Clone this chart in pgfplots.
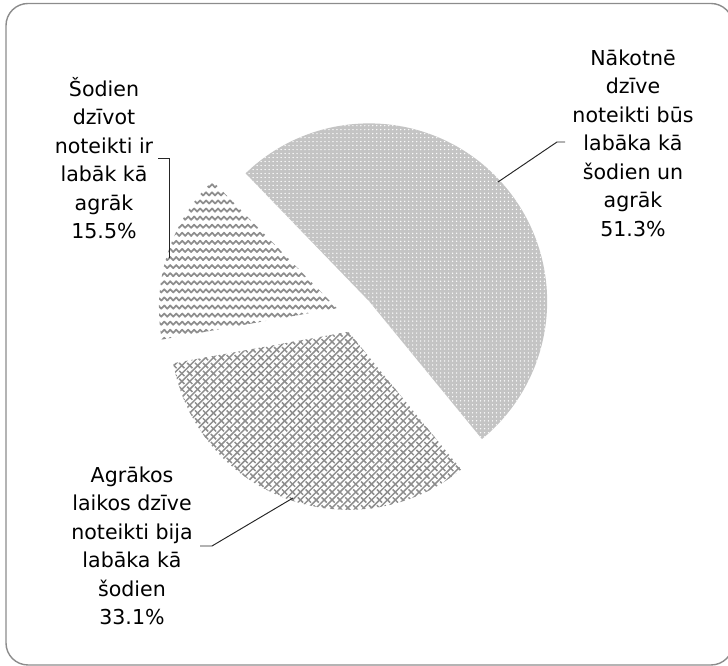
\documentclass[border=0pt]{standalone}
\usepackage{fontspec}
\setmainfont{DejaVu Sans}
\usepackage{pgfplots}
\usepackage{pgfplotstable}
\pgfplotsset{compat=1.18}
\usetikzlibrary{patterns,patterns.meta}

\tikzdeclarepattern{
  name=whitedots, type=uncolored,
  bottom left={(-0.1pt,-0.1pt)}, top right={(2.3pt,2.3pt)},
  tile size={(2.27pt,2.27pt)},
  code={\fill (1.1pt,1.1pt) circle (0.42pt);}
}
\tikzdeclarepattern{
  name=wavy, type=uncolored,
  bottom left={(-0.6pt,-0.6pt)}, top right={(7.4pt,5.2pt)},
  tile size={(6.8pt,4.6pt)},
  code={\draw[line width=1.0pt, line cap=round, line join=round] (0pt,1pt) -- (1.7pt,2.8pt) -- (3.4pt,1pt) -- (5.1pt,2.8pt) -- (6.8pt,1pt);}
}
\tikzdeclarepattern{
  name=weave, type=uncolored,
  bottom left={(-0.6pt,-0.6pt)}, top right={(5.2pt,5.2pt)},
  tile size={(4.5pt,4.5pt)},
  code={\draw[line width=0.85pt] (0pt,0pt) -- (4.5pt,4.5pt);
        \draw[line width=0.85pt] (4.5pt,0pt) -- (3.0pt,1.5pt);
        \draw[line width=0.85pt] (1.5pt,3.0pt) -- (0pt,4.5pt);}
}

\definecolor{bigfill}{HTML}{C4C4C4}
\definecolor{patgray}{HTML}{8E8E8E}
\definecolor{bordergray}{HTML}{8C8C8C}

\pgfplotstableread{
idx value
0 51.3
1 33.1
2 15.5
}\piedata

\begin{document}
\begin{tikzpicture}
\pgfplotstablegetelem{0}{value}\of\piedata \pgfmathsetmacro\vA{\pgfplotsretval}
\pgfplotstablegetelem{1}{value}\of\piedata \pgfmathsetmacro\vB{\pgfplotsretval}
\pgfplotstablegetelem{2}{value}\of\piedata \pgfmathsetmacro\vC{\pgfplotsretval}
\pgfmathsetmacro\aS{134}
\pgfmathsetmacro\aA{\aS-\vA*3.6}
\pgfmathsetmacro\aB{\aA-\vB*3.6}
\pgfmathsetmacro\aC{\aB-\vC*3.6}
\pgfmathsetmacro\mA{(\aS+\aA)/2}
\pgfmathsetmacro\mB{(\aA+\aB)/2}
\pgfmathsetmacro\mC{(\aB+\aC)/2}
\pgfmathsetmacro\xA{355+19*cos(\mA)}\pgfmathsetmacro\yA{352+19*sin(\mA)}
\pgfmathsetmacro\xB{355+19*cos(\mB)}\pgfmathsetmacro\yB{352+19*sin(\mB)}
\pgfmathsetmacro\xC{355+19*cos(\mC)}\pgfmathsetmacro\yC{352+19*sin(\mC)}
\def\R{3.56cm}
\begin{axis}[x=0.02cm, y=0.02cm, xmin=0, xmax=728, ymin=0, ymax=666,
  hide axis, clip=false]
\coordinate (BL) at (axis cs:0,0);
\coordinate (TR) at (axis cs:728,666);
\draw[bordergray, line width=0.8pt, rounded corners=0.44cm]
  (axis cs:6,1) rectangle (axis cs:733,662.5);
% slice A (51.3%)
\fill[bigfill] (axis cs:\xA,\yA) -- ++(\aS:\R) arc[start angle=\aS, end angle=\aA, radius=\R] -- cycle;
\fill[pattern=whitedots, pattern color=white] (axis cs:\xA,\yA) -- ++(\aS:\R) arc[start angle=\aS, end angle=\aA, radius=\R] -- cycle;
% slice B (33.1%)
\fill[pattern=weave, pattern color=patgray] (axis cs:\xB,\yB) -- ++(\aA:\R) arc[start angle=\aA, end angle=\aB, radius=\R] -- cycle;
% slice C (15.5%)
\fill[pattern=wavy, pattern color=patgray] (axis cs:\xC,\yC) -- ++(\aB:\R) arc[start angle=\aB, end angle=\aC, radius=\R] -- cycle;
% leader lines
\draw[black!85, line width=0.55pt] (axis cs:565,524) -- (axis cs:557,524) -- (axis cs:498,484);
\draw[black!85, line width=0.55pt] (axis cs:158,508) -- (axis cs:169,508) -- (axis cs:169,408);
\draw[black!85, line width=0.55pt] (axis cs:200,120) -- (axis cs:212,120) -- (axis cs:293,168);
% labels
\node[align=center, font=\fontsize{11.7}{16.2}\selectfont, inner sep=0pt] at (axis cs:633,523)
  {Nākotnē\\dzīve\\noteikti būs\\labāka kā\\šodien un\\agrāk\\51.3\%};
\node[align=center, font=\fontsize{11.7}{16.2}\selectfont, inner sep=0pt] at (axis cs:104,508)
  {Šodien\\dzīvot\\noteikti ir\\labāk kā\\agrāk\\15.5\%};
\node[align=center, font=\fontsize{11.7}{16.2}\selectfont, inner sep=0pt] at (axis cs:132,120)
  {Agrākos\\laikos dzīve\\noteikti bija\\labāka kā\\šodien\\33.1\%};
\end{axis}
\pgfresetboundingbox
\path (BL) rectangle (TR);
\end{tikzpicture}
\end{document}
